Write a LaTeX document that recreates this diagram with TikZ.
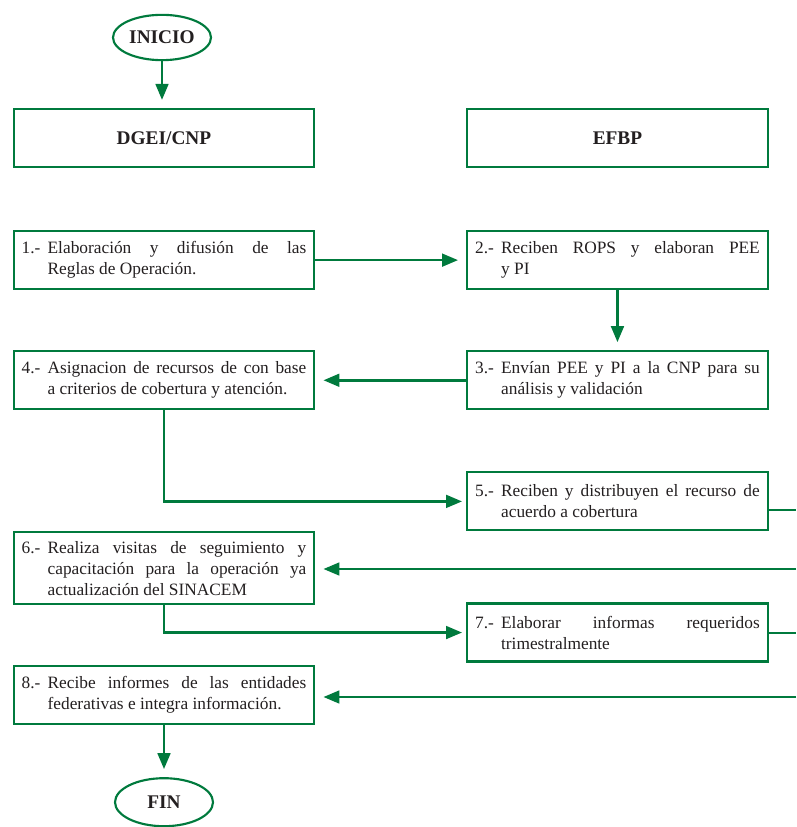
\documentclass[tikz,border=0pt]{standalone}
\usepackage{fontspec}
\setmainfont{Liberation Serif}
\usetikzlibrary{shapes.geometric,arrows.meta,positioning}
\definecolor{verde}{RGB}{0,122,61}
\definecolor{tinta}{RGB}{35,31,32}
\newcommand{\pnum}[1]{\makebox[19.5pt][l]{#1}}
\tikzset{
	pasobox/.style={rectangle, draw=verde, line width=1.6pt, text=tinta,
		text width=213.5pt, inner xsep=6pt, inner ysep=6.5pt, minimum height=43.5pt,
		align=justify, font=\fontsize{13}{15.75}\selectfont,
		execute at begin node={\tolerance=9999\hyphenpenalty=10000\hangindent=19.5pt\hangafter=1}},
	titulobox/.style={rectangle, draw=verde, line width=1.6pt, text=tinta,
		minimum width=225.5pt, minimum height=43.5pt, font=\fontsize{14.5}{17}\selectfont\bfseries},
	extremo/.style={ellipse, draw=verde, line width=1.6pt, text=tinta, inner sep=0pt,
		minimum width=73.5pt, minimum height=34pt, font=\fontsize{14.5}{17}\selectfont\bfseries},
	linea/.style={draw=verde, line width=2pt},
	flecha/.style={linea, -{Triangle[length=12pt,width=9.5pt]}, shorten >=6pt}
}

\begin{document}
\begin{tikzpicture}[x=0.75pt, y=-0.75pt, node distance=45.75pt and 113pt]
	\useasboundingbox (0,0) rectangle (796,827);
	\node[extremo] (inicio) at (162,37.5) {INICIO};
	\node[titulobox] (dgei) at (164,138) {DGEI/CNP};
	\node[titulobox, right=of dgei] (efbp) {EFBP};
	\node[pasobox, below=46.5pt of dgei] (p1) {\pnum{1.-}Elaboración y difusión de las\linebreak Reglas de Operación.};
	\node[pasobox, right=of p1] (p2) {\pnum{2.-}Reciben ROPS y elaboran PEE\linebreak y PI};
	\node[pasobox, below=45pt of p1] (p4) {\pnum{4.-}Asignacion de recursos de con base\linebreak a criterios de cobertura y atención.};
	\node[pasobox, right=of p4] (p3) {\pnum{3.-}Envían PEE y PI a la CNP para su\linebreak análisis y validación};
	\node[pasobox, below=of p3] (p5) {\pnum{5.-}Reciben y distribuyen el recurso de\linebreak acuerdo a cobertura};
	\node[pasobox, below=90.75pt of p4] (p6) {\pnum{6.-}Realiza visitas de seguimiento y\linebreak capacitación para la operación ya\linebreak actualización del SINACEM};
	\node[pasobox, below=53.25pt of p5] (p7) {\pnum{7.-}Elaborar informas requeridos\linebreak trimestralmente};
	\node[pasobox, below=45pt of p6] (p8) {\pnum{8.-}Recibe informes de las entidades\linebreak federativas e integra información.};
	\node[extremo, below=39pt of p8, minimum height=36pt] (fin) {FIN};
	\coordinate (s5) at (796,510);
	\coordinate (e6) at (796,569);
	\coordinate (s7) at (796,633);
	\coordinate (e8) at (796,697);
	\draw[flecha] (inicio) -- (inicio |- dgei.north);
	\draw[flecha] (p1) -- (p2);
	\draw[flecha] (p2) -- (p3);
	\draw[flecha] (p3) -- (p4);
	\draw[flecha, shorten >=3pt] (p4.south) |- (p5.west);
	\draw[linea] (p5.east |- s5) -- (s5);
	\draw[flecha] (e6) -- (p6.east |- e6);
	\draw[flecha, shorten >=3pt] (p6.south) |- (p7.west);
	\draw[linea] (p7.east |- s7) -- (s7);
	\draw[flecha] (e8) -- (p8.east |- e8);
	\draw[flecha] (p8) -- (fin);
\end{tikzpicture}
\end{document}
